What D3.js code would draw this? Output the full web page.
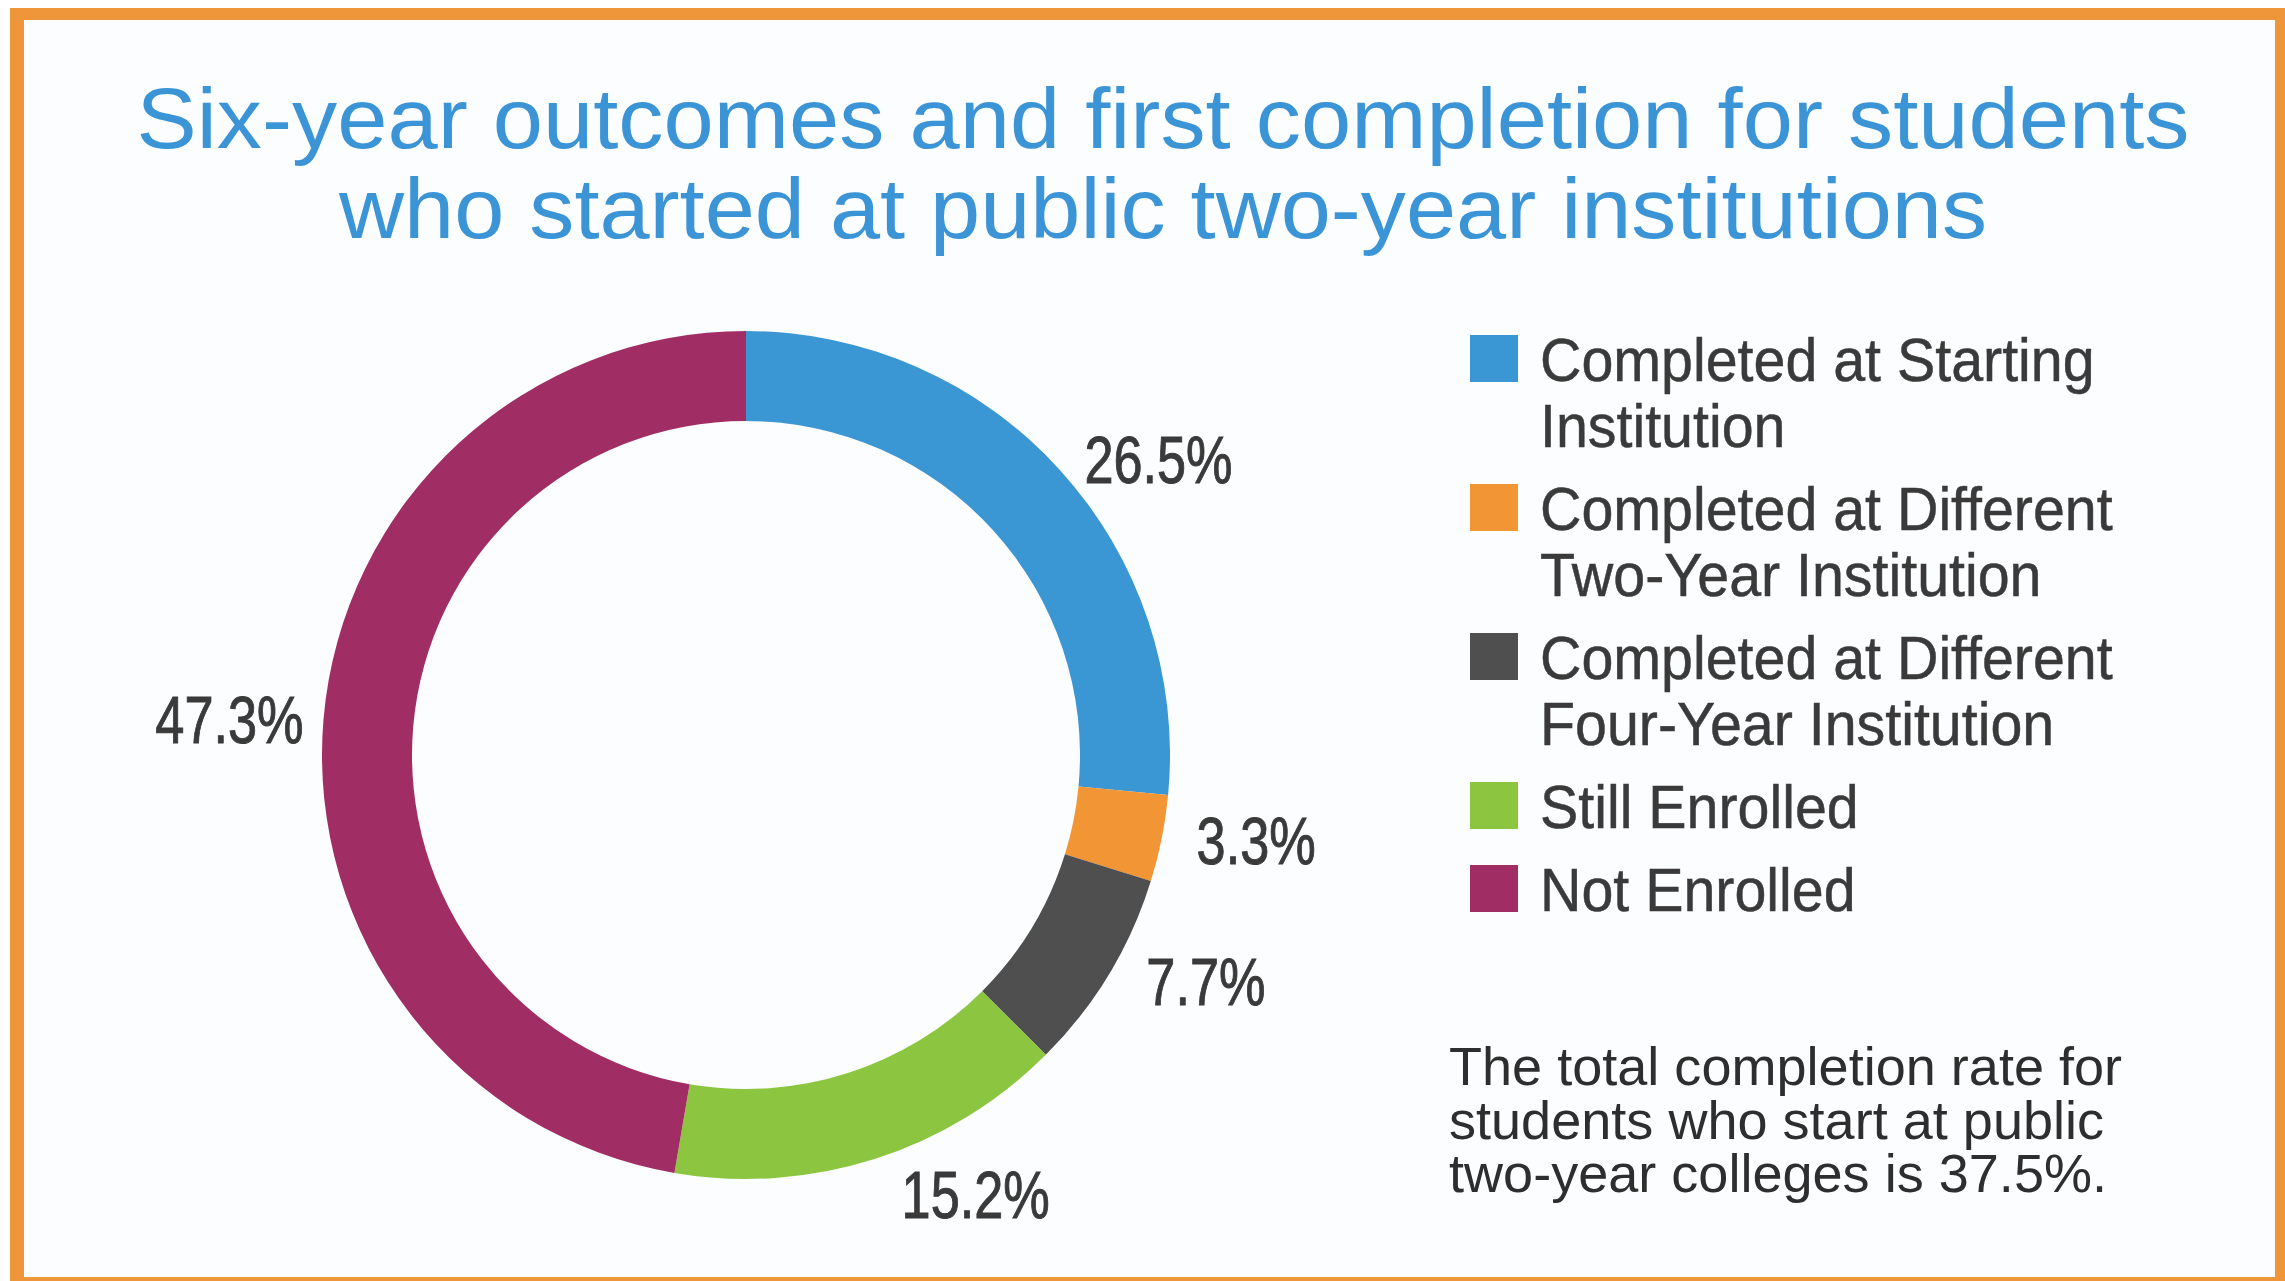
<!DOCTYPE html>
<html>
<head>
<meta charset="utf-8">
<script src="https://cdn.jsdelivr.net/npm/d3@7"></script>
<style>
  body { margin: 0; background: #ffffff; }
  svg text { font-family: "Liberation Sans", Arial, sans-serif; }
</style>
</head>
<body>
<div id="chart"></div>
<script>
// data
const categories = [
  "Completed at Starting Institution",
  "Completed at Different Two-Year Institution",
  "Completed at Different Four-Year Institution",
  "Still Enrolled",
  "Not Enrolled"
];
const shares = [26.5, 3.3, 7.7, 15.2, 47.3];
const legendLines = [
  ["Completed at Starting", "Institution"],
  ["Completed at Different", "Two-Year Institution"],
  ["Completed at Different", "Four-Year Institution"],
  ["Still Enrolled"],
  ["Not Enrolled"]
];
const titleLines = [
  "Six-year outcomes and first completion for students",
  "who started at public two-year institutions"
];
const noteLines = [
  "The total completion rate for",
  "students who start at public",
  "two-year colleges is 37.5%."
];
const sliceColors = ["#3b96d4", "#f29535", "#4f4f4f", "#8cc540", "#a02e64"];

// set the dimensions
const W = 2285, H = 1281;

const svg = d3.select("#chart")
  .append("svg")
    .attr("width", W)
    .attr("height", H);

// orange frame
svg.append("rect")
  .attr("x", 10).attr("y", 8)
  .attr("width", W).attr("height", H)
  .attr("fill", "#f0963a");
svg.append("rect")
  .attr("x", 24).attr("y", 20)
  .attr("width", 2275 - 24).attr("height", 1277 - 20)
  .attr("fill", "#fcfdfe");

// title
const titleWidths = [2053, 1648];
svg.selectAll(".title")
  .data(titleLines)
  .join("text")
    .attr("class", "title")
    .attr("x", 1163)
    .attr("y", (d, i) => 148 + i * 90)
    .attr("text-anchor", "middle")
    .attr("font-size", 86)
    .attr("fill", "#3a94d6")
    .attr("textLength", (d, i) => titleWidths[i])
    .attr("lengthAdjust", "spacingAndGlyphs")
    .text(d => d);

// squeeze text to look like the condensed face of the original
function condense(sel, factor) {
  sel.each(function () {
    const w = this.getComputedTextLength();
    d3.select(this)
      .attr("textLength", w * factor)
      .attr("lengthAdjust", "spacingAndGlyphs");
  });
}

// donut
const color = d3.scaleOrdinal().domain(categories).range(sliceColors);
const pie = d3.pie().sort(null).value(d => d.value);
const pieData = pie(categories.map((c, i) => ({ name: c, value: shares[i] })));

const outerR = 424, innerR = 334;
const arc = d3.arc().innerRadius(innerR).outerRadius(outerR);

// labels sit on an ellipse round the ring, pulled a little toward the horizontal
const labelPos = d => {
  const mid = (d.startAngle + d.endAngle) / 2;
  const side = mid < Math.PI ? Math.PI / 2 : 3 * Math.PI / 2;
  const a = side + (mid - side) * 0.88;
  return [518 * Math.sin(a), -490 * Math.cos(a)];
};

const donut = svg.append("g")
  .attr("transform", "translate(746,755)");

donut.selectAll("path")
  .data(pieData)
  .join("path")
    .attr("d", arc)
    .attr("fill", d => color(d.data.name));

donut.selectAll(".pct")
  .data(pieData)
  .join("text")
    .attr("class", "pct")
    .attr("transform", d => `translate(${labelPos(d)})`)
    .attr("dy", "0.36em")
    .attr("text-anchor", "middle")
    .attr("font-size", 67)
    .attr("fill", "#3a3a3a")
    .attr("stroke", "#3a3a3a")
    .attr("stroke-width", 1)
    .text(d => d.data.value.toFixed(1) + "%")
    .call(condense, 0.78);

// legend
const legend = svg.append("g");
let yCursor = 381;
legendLines.forEach((lines, i) => {
  const g = legend.append("g");
  g.append("rect")
    .attr("x", 1470)
    .attr("y", yCursor - 46)
    .attr("width", 48)
    .attr("height", 47)
    .attr("fill", color(categories[i]));
  g.selectAll("text")
    .data(lines)
    .join("text")
      .attr("x", 1540)
      .attr("y", (d, j) => yCursor + j * 66)
      .attr("font-size", 61)
      .attr("fill", "#3a3a3a")
      .attr("stroke", "#3a3a3a")
      .attr("stroke-width", 0.5)
      .text(d => d)
      .call(condense, 0.94);
  yCursor += (lines.length - 1) * 66 + 83;
});

// note
svg.selectAll(".note")
  .data(noteLines)
  .join("text")
    .attr("class", "note")
    .attr("x", 1449)
    .attr("y", (d, i) => 1085 + i * 53.5)
    .attr("font-size", 53)
    .attr("fill", "#2e2e2e")
    .text(d => d)
    .call(condense, 1.02);
</script>
</body>
</html>
